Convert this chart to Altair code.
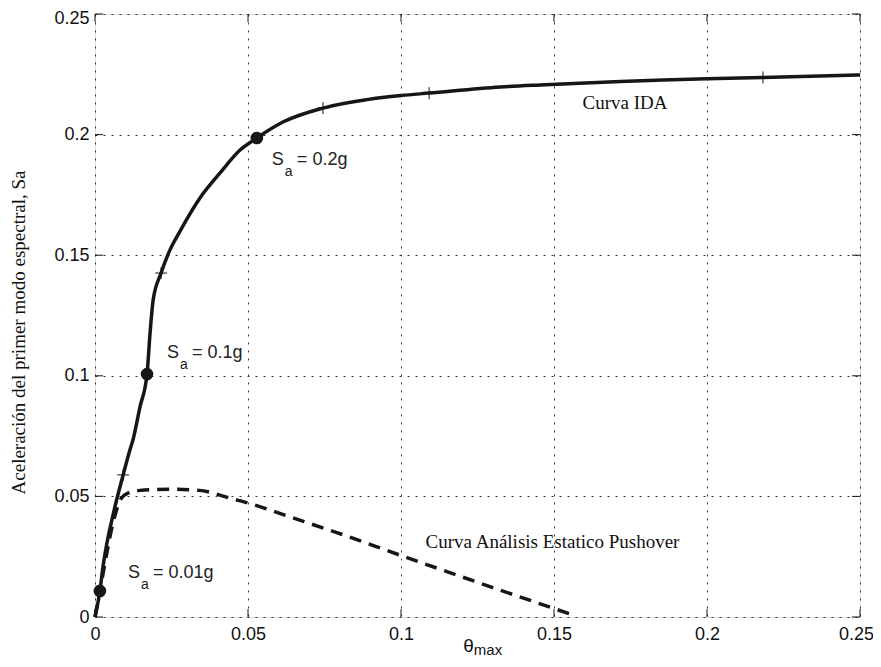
import altair as alt
import pandas as pd

# ---- data ----
ida_x = [0.0, 0.0016, 0.0026, 0.0065, 0.0092, 0.0114, 0.0124, 0.0147, 0.0170, 0.0180,
         0.0190, 0.0216, 0.0245, 0.0278, 0.0343, 0.0408, 0.0474, 0.0529, 0.0614, 0.0745,
         0.0889, 0.1000, 0.1092, 0.1324, 0.1454, 0.2000, 0.2183, 0.2500]
ida_y = [0.0, 0.0108, 0.0207, 0.0456, 0.0589, 0.0692, 0.0734, 0.0871, 0.1007, 0.1178,
         0.1314, 0.1426, 0.1522, 0.1600, 0.1737, 0.1840, 0.1936, 0.1986, 0.2052, 0.2110,
         0.2145, 0.2162, 0.2172, 0.2197, 0.2206, 0.2232, 0.2237, 0.2247]

push_x = [0.0, 0.0016, 0.0065, 0.0085, 0.0110, 0.0147, 0.0245, 0.0340, 0.0451, 0.0507,
          0.0637, 0.0790, 0.1000, 0.1300, 0.1570]
push_y = [0.0, 0.0108, 0.0420, 0.0490, 0.0515, 0.0525, 0.0530, 0.0525, 0.0489, 0.0470,
          0.0415, 0.0350, 0.0255, 0.0122, 0.0005]

dot_x = [0.0016, 0.0170, 0.0529]
dot_y = [0.0108, 0.1007, 0.1986]

cross_x = [0.0092, 0.0216, 0.0745, 0.1092, 0.2183]
cross_y = [0.0589, 0.1426, 0.2110, 0.2172, 0.2237]

label_x = [0.0108, 0.0235, 0.0578]
label_y = [0.0182, 0.1095, 0.1895]
label_val = ["= 0.01g", "= 0.1g", "= 0.2g"]

curve_names = ["Curva IDA", "Curva Análisis Estatico Pushover"]
curve_name_x = [0.1732, 0.1495]
curve_name_y = [0.2131, 0.0311]

tick_vals = [0, 0.05, 0.1, 0.15, 0.2, 0.25]

W, H = 765, 603
INK = "#161616"

xs = alt.Scale(domain=[0, 0.25], nice=False, zero=False)
ys = alt.Scale(domain=[0, 0.25], nice=False, zero=False)

ida = pd.DataFrame({"x": ida_x, "y": ida_y})
push = pd.DataFrame({"x": push_x, "y": push_y})
dots = pd.DataFrame({"x": dot_x, "y": dot_y})
crosses = pd.DataFrame({"x": cross_x, "y": cross_y})
labels = pd.DataFrame({"x": label_x, "y": label_y, "t": label_val})
names = pd.DataFrame({"x": curve_name_x, "y": curve_name_y, "t": curve_names})
ticks = pd.DataFrame({"x": tick_vals, "y": tick_vals})

x_axis = alt.Axis(values=tick_vals, format="~g", grid=True, gridDash=[2, 6],
                  gridColor="#333333", gridWidth=1, ticks=False, domain=False,
                  labelFont="Liberation Sans", labelFontSize=18, labelColor="#111111",
                  labelPadding=8, labelFlush=False, labelOverlap=False,
                  labelOffset={"condition": {"test": "datum.value >= 0.249", "value": -4},
                               "value": 0},
                  title="θ", titleFont="Liberation Sans", titleFontSize=19,
                  titleFontWeight="normal", titleColor="#111111",
                  titleX=373, titleY=28, titleAlign="center", titleBaseline="middle")
y_axis = alt.Axis(values=tick_vals, format="~g", grid=True, gridDash=[2, 6],
                  gridColor="#333333", gridWidth=1, ticks=False, domain=False,
                  labelFont="Liberation Sans", labelFontSize=18, labelColor="#111111",
                  labelPadding=6, labelFlush=False, labelOverlap=False,
                  labelOffset={"condition": {"test": "datum.value >= 0.249", "value": 4},
                               "value": 0},
                  title="Aceleración del primer modo espectral, Sa",
                  titleFont="Liberation Serif", titleFontSize=19,
                  titleFontWeight="normal", titleColor="#111111",
                  titleX=-77, titleY=318, titleAngle=270, titleAlign="center",
                  titleBaseline="middle")

ida_line = alt.Chart(ida).mark_line(color=INK, strokeWidth=3.5, interpolate="monotone").encode(
    x=alt.X("x:Q", scale=xs, axis=x_axis),
    y=alt.Y("y:Q", scale=ys, axis=y_axis),
    order="x:Q",
)

push_line = alt.Chart(push).mark_line(color=INK, strokeWidth=3.5, strokeDash=[12, 8],
                                      interpolate="monotone").encode(
    x="x:Q", y="y:Q", order="x:Q")

dot_layer = alt.Chart(dots).mark_point(shape="circle", filled=True, size=160,
                                       color=INK, opacity=1).encode(x="x:Q", y="y:Q")

cross_layer = alt.Chart(crosses).mark_point(shape="M-1,0L1,0M0,-1L0,1", filled=False,
                                            size=144, stroke=INK, strokeWidth=1,
                                            opacity=1).encode(x="x:Q", y="y:Q")

s_text = alt.Chart(labels).mark_text(text="S", align="left", baseline="middle",
                                     font="Liberation Sans", fontSize=18,
                                     color="#222222").encode(x="x:Q", y="y:Q")
a_text = alt.Chart(labels).mark_text(text="a", align="left", baseline="middle",
                                     font="Liberation Sans", fontSize=14, dx=13, dy=12,
                                     color="#222222").encode(x="x:Q", y="y:Q")
v_text = alt.Chart(labels).mark_text(align="left", baseline="middle",
                                     font="Liberation Sans", fontSize=18, dx=25,
                                     color="#222222").encode(x="x:Q", y="y:Q", text="t:N")

name_text = alt.Chart(names).mark_text(align="center", baseline="middle",
                                       font="Liberation Serif", fontSize=19,
                                       color="#111111").encode(x="x:Q", y="y:Q", text="t:N")

max_text = alt.Chart(names.head(1)).mark_text(text="max", align="center", baseline="middle",
                                              font="Liberation Sans", fontSize=15,
                                              color="#111111").encode(
    x=alt.value(393), y=alt.value(H + 33))

tb = alt.Chart(ticks).mark_rule(color=INK, strokeWidth=1).encode(
    x="x:Q", y=alt.value(H), y2=alt.value(H - 8))
tt = alt.Chart(ticks).mark_rule(color=INK, strokeWidth=1).encode(
    x="x:Q", y=alt.value(0), y2=alt.value(8))
tl = alt.Chart(ticks).mark_rule(color=INK, strokeWidth=1).encode(
    y="y:Q", x=alt.value(0), x2=alt.value(8))
tr = alt.Chart(ticks).mark_rule(color=INK, strokeWidth=1).encode(
    y="y:Q", x=alt.value(W), x2=alt.value(W - 8))

chart = alt.layer(
    ida_line, push_line, tb, tt, tl, tr, cross_layer, dot_layer,
    s_text, a_text, v_text, name_text, max_text
).properties(
    width=W, height=H,
    autosize=alt.AutoSizeParams(type="none"),
    padding={"left": 87, "top": 6, "right": 13, "bottom": 42},
).configure_view(stroke="#333333", strokeWidth=1.2).configure(background="white")

chart.save("out.html", embed_options={"renderer": "svg", "actions": False})
